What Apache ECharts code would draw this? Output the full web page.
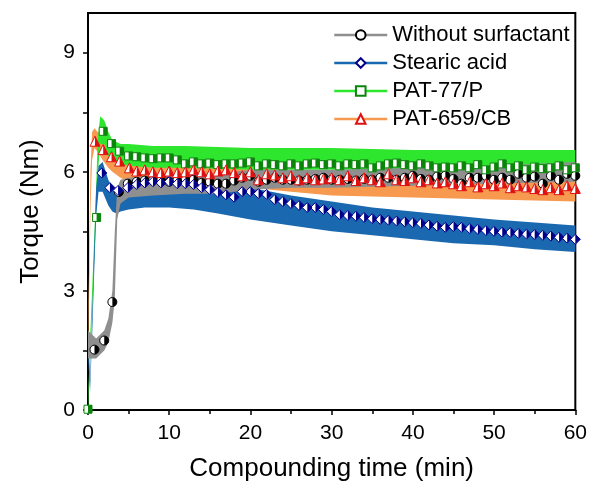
<!DOCTYPE html>
<html><head><meta charset="utf-8">
<script src="https://cdn.jsdelivr.net/npm/echarts@6/dist/echarts.min.js"></script>
<style>html,body{margin:0;padding:0;background:#fff}#c{width:590px;height:487px}</style>
</head><body><div id="c"></div>
<script>
const seriesNames = ['Without surfactant', 'Stearic acid', 'PAT-77/P', 'PAT-659/CB'];
const xTickLabels = [0, 10, 20, 30, 40, 50, 60];
const yTickLabels = [0, 3, 6, 9];
const yTickMarks = [0, 1.5, 3, 4.5, 6, 7.5, 9];

// noisy band envelopes (time in min, torque lower / upper in Nm)
const grayBandT    = [0, 0.5, 1, 1.5, 2, 2.5, 3, 3.3, 3.6, 4, 5, 8, 12, 16, 20, 25, 30, 40, 50, 60];
const grayBandLow  = [1.3, 1.3, 1.3, 1.4, 1.5, 1.7, 2.2, 2.8, 4.8, 5.2, 5.35, 5.4, 5.45, 5.45, 5.55, 5.6, 5.6, 5.65, 5.7, 5.75];
const grayBandHigh = [2.0, 1.9, 1.8, 1.9, 2.0, 2.3, 3.0, 4.5, 5.6, 5.8, 5.85, 5.9, 5.95, 5.95, 6.05, 6.05, 6.05, 6.1, 6.15, 6.25];

const blueBandT    = [0, 0.25, 0.5, 0.75, 1, 1.3, 1.8, 2.5, 3, 3.5, 4, 5, 7, 10, 13, 16, 20, 25, 30, 35, 40, 45, 50, 55, 60];
const blueBandLow  = [1.4, 0.45, 1.8, 3.4, 4.9, 5.5, 5.5, 5.15, 5.0, 4.95, 5.0, 5.05, 5.1, 5.1, 5.05, 4.95, 4.8, 4.65, 4.5, 4.4, 4.3, 4.2, 4.15, 4.05, 3.98];
const blueBandHigh = [1.7, 0.75, 2.3, 4.0, 5.6, 6.15, 6.25, 5.8, 5.6, 5.6, 5.7, 5.8, 5.85, 5.9, 5.85, 5.7, 5.6, 5.4, 5.25, 5.1, 5.0, 4.9, 4.8, 4.72, 4.65];

const greenBandT    = [0, 0.3, 0.6, 0.9, 1.2, 1.5, 2, 2.5, 3, 4, 5, 8, 12, 20, 30, 40, 50, 60];
const greenBandLow  = [0, 1.4, 2.9, 4.4, 5.9, 6.7, 6.7, 6.4, 6.3, 6.2, 6.15, 6.1, 6.1, 6.05, 6.05, 6.05, 6.0, 6.0];
const greenBandHigh = [0.2, 2.0, 3.5, 5.0, 6.8, 7.4, 7.3, 7.0, 6.8, 6.7, 6.7, 6.65, 6.65, 6.6, 6.6, 6.55, 6.55, 6.55];

const orangeBandT    = [0, 0.15, 0.3, 0.5, 0.8, 1.2, 1.8, 2.5, 3, 4, 5, 7, 10, 15, 20, 25, 30, 40, 50, 60];
const orangeBandLow  = [1.5, 3.0, 5.0, 6.3, 6.6, 6.5, 6.3, 6.1, 6.0, 5.85, 5.75, 5.7, 5.65, 5.65, 5.6, 5.5, 5.4, 5.35, 5.3, 5.25];
const orangeBandHigh = [2.0, 3.8, 6.0, 7.0, 7.1, 7.0, 6.9, 6.6, 6.5, 6.35, 6.3, 6.25, 6.2, 6.2, 6.1, 6.05, 5.95, 5.9, 5.85, 5.8];

// markers
const grayMarkT = [0.8, 2, 3, 3.8, 4.9, 6, 7, 8, 9, 10, 11, 12, 13, 14, 15, 16, 17, 18, 19, 20, 21, 22, 23, 24, 25, 26, 27, 28, 29, 30, 31, 32, 33, 34, 35, 36, 37, 38, 39, 40, 41, 42, 43, 44, 45, 46, 47, 48, 49, 50, 51, 52, 53, 54, 55, 56, 57, 58, 59, 60];
const grayMarkV = [1.52, 1.75, 2.72, 5.49, 5.7, 5.75, 5.78, 5.78, 5.78, 5.75, 5.78, 5.82, 5.8, 5.72, 5.75, 5.7, 5.7, 5.78, 5.85, 5.9, 5.75, 5.8, 5.85, 5.8, 5.8, 5.78, 5.8, 5.82, 5.85, 5.8, 5.8, 5.82, 5.78, 5.82, 5.8, 5.85, 5.85, 5.8, 5.85, 5.9, 5.82, 5.8, 5.88, 5.9, 5.82, 5.7, 5.85, 5.85, 5.9, 5.8, 5.85, 5.8, 5.95, 5.85, 5.88, 5.7, 5.9, 5.8, 5.95, 5.9];

const blueMarkT = [1.7, 2.7, 3.7, 4.9, 6, 7, 8, 9, 10, 11, 12, 13, 14, 15, 16, 17, 18, 19, 20, 21, 22, 23, 24, 25, 26, 27, 28, 29, 30, 31, 32, 33, 34, 35, 36, 37, 38, 39, 40, 41, 42, 43, 44, 45, 46, 47, 48, 49, 50, 51, 52, 53, 54, 55, 56, 57, 58, 59, 60];
const blueMarkV = [5.97, 5.6, 5.53, 5.6, 5.68, 5.72, 5.75, 5.72, 5.75, 5.7, 5.7, 5.68, 5.6, 5.55, 5.48, 5.42, 5.36, 5.5, 5.5, 5.45, 5.43, 5.3, 5.25, 5.2, 5.15, 5.1, 5.1, 5.05, 5.0, 4.92, 4.9, 4.88, 4.85, 4.82, 4.8, 4.78, 4.76, 4.74, 4.72, 4.7, 4.66, 4.63, 4.6, 4.62, 4.6, 4.57, 4.55, 4.52, 4.5, 4.48, 4.47, 4.45, 4.43, 4.42, 4.4, 4.38, 4.35, 4.33, 4.3];

const greenMarkT = [0, 1.06, 1.87, 2.9, 3.9, 5, 6, 7, 8, 9, 10, 11, 12, 13, 14, 15, 16, 17, 18, 19, 20, 21, 22, 23, 24, 25, 26, 27, 28, 29, 30, 31, 32, 33, 34, 35, 36, 37, 38, 39, 40, 41, 42, 43, 44, 45, 46, 47, 48, 49, 50, 51, 52, 53, 54, 55, 56, 57, 58, 59, 60];
const greenMarkV = [0.02, 4.85, 7.02, 6.71, 6.52, 6.4, 6.38, 6.35, 6.33, 6.35, 6.35, 6.3, 6.2, 6.25, 6.2, 6.22, 6.18, 6.2, 6.2, 6.22, 6.25, 6.15, 6.2, 6.18, 6.15, 6.2, 6.15, 6.2, 6.22, 6.18, 6.2, 6.15, 6.2, 6.18, 6.2, 6.1, 6.15, 6.2, 6.22, 6.18, 6.15, 6.2, 6.15, 6.1, 6.12, 6.1, 6.15, 6.1, 6.18, 6.05, 6.12, 6.2, 6.1, 6.15, 6.05, 6.12, 6.08, 6.1, 6.15, 6.05, 6.1];

const orangeMarkT = [0.86, 1.87, 2.9, 3.9, 5.1, 6, 7, 8, 9, 10, 11, 12, 13, 14, 15, 16, 17, 18, 19, 20, 21, 22, 23, 24, 25, 26, 27, 28, 29, 30, 31, 32, 33, 34, 35, 36, 37, 38, 39, 40, 41, 42, 43, 44, 45, 46, 47, 48, 49, 50, 51, 52, 53, 54, 55, 56, 57, 58, 59, 60];
const orangeMarkV = [6.77, 6.56, 6.38, 6.27, 6.1, 6.02, 6.05, 6.0, 5.98, 6.02, 5.98, 6.0, 6.05, 6.0, 5.95, 6.02, 6.05, 5.98, 5.9, 6.0, 5.8, 5.95, 5.92, 5.85, 5.9, 5.8, 5.85, 5.8, 5.82, 5.85, 5.8, 5.9, 5.78, 5.85, 5.8, 5.75, 5.95, 5.8, 5.78, 5.85, 5.75, 5.8, 5.72, 5.75, 5.7, 5.65, 5.75, 5.62, 5.7, 5.65, 5.72, 5.6, 5.65, 5.62, 5.58, 5.55, 5.6, 5.55, 5.65, 5.58];

const FONT = '"Liberation Sans", Arial, sans-serif';

function zip(a, b) { return a.map((t, i) => [t, b[i]]); }

function bandSeries(T, low, high, color, z) {
  return {
    type: 'custom', coordinateSystem: 'cartesian2d', data: [[0, 0]], silent: true, z: z,
    renderItem: function (params, api) {
      const pts = [];
      for (let i = 0; i < T.length; i++) pts.push(api.coord([T[i], high[i]]));
      for (let i = T.length - 1; i >= 0; i--) pts.push(api.coord([T[i], low[i]]));
      return { type: 'polygon', shape: { points: pts }, style: { fill: color } };
    }
  };
}

const halfPaths = {
  circle: 'path://M0 0M10 0A10 10 0 0 1 10 20Z',
  diamond: 'path://M0 0M10 0L20 10L10 20Z',
  rect: 'path://M0 0M10 0L20 0L20 20L10 20Z',
  triangle: 'path://M0 0M10 0L20 20L10 20Z'
};

function markerSeries(name, T, V, shape, size, dark, lineColor) {
  return [{
    type: 'line', name: name, data: zip(T, V), z: 5,
    symbol: shape, symbolSize: size, showAllSymbol: true, silent: true,
    itemStyle: { color: '#fff', borderColor: dark, borderWidth: 1 },
    lineStyle: { color: lineColor, width: 2.5, opacity: 0 }
  }, {
    type: 'line', name: name + ' half', data: zip(T, V), z: 5,
    symbol: halfPaths[shape], symbolSize: size, showAllSymbol: true, silent: true,
    itemStyle: { color: dark, borderWidth: 0 },
    lineStyle: { opacity: 0 }
  }];
}

const cGray = '#8f8f8f', cBlue = '#1a68b0', cGreen = '#2ee62e', cOrange = '#f7994e';

const chart = echarts.init(document.getElementById('c'), null, { renderer: 'canvas' });
chart.setOption({
  animation: false,
  backgroundColor: '#fff',
  textStyle: { fontFamily: FONT },
  grid: { left: 88, right: 12, top: 13, bottom: 76, show: true, borderColor: '#000', borderWidth: 2, backgroundColor: 'transparent' },
  legend: {
    data: seriesNames, orient: 'vertical', left: 328, top: 19, itemWidth: 53, itemHeight: 12, itemGap: 6,
    textStyle: { fontSize: 22, color: '#000', fontFamily: FONT },
    lineStyle: { width: 2.5, opacity: 1 }
  },
  xAxis: {
    type: 'value', min: 0, max: 60, interval: 10,
    name: 'Compounding time (min)', nameLocation: 'middle', nameGap: 46,
    nameTextStyle: { fontSize: 26, color: '#000', fontFamily: FONT },
    axisLine: { lineStyle: { color: '#000', width: 2 } },
    axisTick: { length: 5, lineStyle: { color: '#000', width: 1.5 } },
    minorTick: { show: true, splitNumber: 2, length: 4, lineStyle: { color: '#000', width: 1.5 } },
    axisLabel: { fontSize: 21, color: '#000', margin: 13, fontFamily: FONT, customValues: xTickLabels },
    splitLine: { show: false }
  },
  yAxis: {
    type: 'value', min: 0, max: 10, interval: 3,
    name: 'Torque (Nm)', nameLocation: 'middle', nameGap: 44, nameRotate: 90,
    nameTextStyle: { fontSize: 26, color: '#000', fontFamily: FONT },
    axisLine: { show: true, lineStyle: { color: '#000', width: 2 } },
    axisTick: { show: true, length: 5, customValues: yTickMarks, lineStyle: { color: '#000', width: 1.5 } },
    axisLabel: { fontSize: 21, color: '#000', margin: 13, fontFamily: FONT, customValues: yTickLabels },
    splitLine: { show: false }
  },
  series: [
    bandSeries(orangeBandT, orangeBandLow, orangeBandHigh, cOrange, 1),
    bandSeries(greenBandT, greenBandLow, greenBandHigh, cGreen, 1),
    bandSeries(blueBandT, blueBandLow, blueBandHigh, cBlue, 1),
    bandSeries(grayBandT, grayBandLow, grayBandHigh, cGray, 1),
    ...markerSeries(seriesNames[0], grayMarkT, grayMarkV, 'circle', 9, '#000', cGray),
    ...markerSeries(seriesNames[1], blueMarkT, blueMarkV, 'diamond', 10, '#00008b', cBlue),
    ...markerSeries(seriesNames[2], greenMarkT, greenMarkV, 'rect', 8, '#0a850a', cGreen),
    ...markerSeries(seriesNames[3], orangeMarkT, orangeMarkV, 'triangle', 10, '#e01010', cOrange)
  ]
});
</script>
</body></html>
